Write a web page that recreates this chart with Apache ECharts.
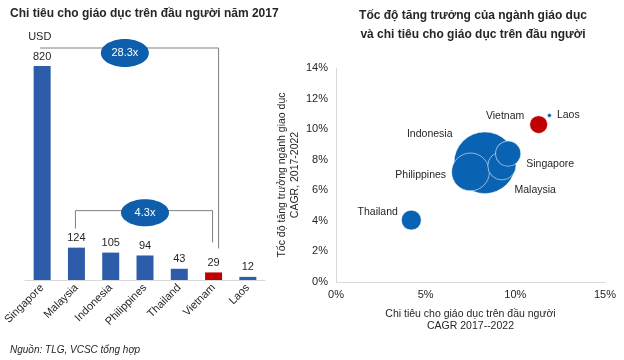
<!DOCTYPE html>
<html>
<head>
<meta charset="utf-8">
<script src="https://cdn.jsdelivr.net/npm/echarts@6/dist/echarts.min.js"></script>
<style>
html,body{margin:0;padding:0;background:#fff;}
#c{width:624px;height:360px;}
</style>
</head>
<body>
<div id="c"></div>
<script>
// Left chart: spending per capita 2017 (USD)
var barCategories = ['Singapore', 'Malaysia', 'Indonesia', 'Philippines', 'Thailand', 'Vietnam', 'Laos'];
var barValues = [820, 124, 105, 94, 43, 29, 12];
var ratioTop = '28.3x';
var ratioBottom = '4.3x';

// Right chart: bubbles
var bubbleNames = ['Indonesia', 'Philippines', 'Malaysia', 'Singapore', 'Thailand', 'Vietnam', 'Laos'];
var spendCagr = [8.3, 7.5, 9.25, 9.6, 4.2, 11.3, 11.9];     // x, %
var sectorCagr = [7.8, 7.2, 7.6, 8.4, 4.05, 10.3, 10.9];    // y, %
var marketSize = [96, 36, 20, 16, 10, 8, 0.4];              // bubble size
var xTicks = [0, 5, 10, 15];
var yTicks = [0, 2, 4, 6, 8, 10, 12, 14];

var FONT = '"Liberation Sans", Arial, sans-serif';
var TXT = '#262626';
var BAR_BLUE = '#2D5DAA';
var RED = '#C00000';
var BUB_BLUE = '#0A62B2';

var labelPlace = {
  'Indonesia':   {position: 'left',  offset: [4, -29]},
  'Philippines': {position: 'left',  offset: [0, 3]},
  'Malaysia':    {position: 'right', offset: [-7, 24]},
  'Singapore':   {position: 'right', offset: [0, 11]},
  'Thailand':    {position: 'left',  offset: [2, -8]},
  'Vietnam':     {position: 'left',  offset: [0, -8]},
  'Laos':        {position: 'right', offset: [0, 0]}
};

var bubbleData = bubbleNames.map(function (n, i) {
  return {
    name: n,
    value: [spendCagr[i], sectorCagr[i], marketSize[i]],
    itemStyle: {color: n === 'Vietnam' ? RED : BUB_BLUE},
    label: labelPlace[n]
  };
});

var barData = barCategories.map(function (c, i) {
  return {value: barValues[i], itemStyle: {color: c === 'Vietnam' ? RED : BAR_BLUE}};
});

var chart = echarts.init(document.getElementById('c'), null, {renderer: 'canvas'});
var option = {
  animation: false,
  backgroundColor: '#fff',
  textStyle: {fontFamily: FONT},
  title: [
    {text: 'Chi tiêu cho giáo dục trên đầu người năm 2017', left: 5, top: 3,
     textStyle: {fontFamily: FONT, fontSize: 12, fontWeight: 'bold', color: TXT}},
    {text: 'Tốc độ tăng trưởng của ngành giáo dục\nvà chi tiêu cho giáo dục trên đầu người', left: 468, top: 1, textAlign: 'center',
     textStyle: {fontFamily: FONT, fontSize: 12, fontWeight: 'bold', color: TXT, lineHeight: 19}},
    {text: 'Nguồn: TLG, VCSC tổng hợp', left: 5, top: 340,
     textStyle: {fontFamily: FONT, fontSize: 10, fontStyle: 'italic', fontWeight: 'normal', color: TXT}}
  ],
  grid: [
    {left: 25, width: 240, top: 66, bottom: 80},
    {left: 336, width: 269, top: 68, bottom: 78}
  ],
  xAxis: [
    {type: 'category', gridIndex: 0, data: barCategories,
     axisLine: {lineStyle: {color: '#d9d9d9'}}, axisTick: {show: false},
     axisLabel: {rotate: 45, color: TXT, fontSize: 11, fontFamily: FONT, margin: 6, interval: 0}},
    {type: 'value', gridIndex: 1, min: 0, max: 15, interval: 5,
     axisLine: {show: true, lineStyle: {color: '#d9d9d9'}}, axisTick: {show: false}, splitLine: {show: false},
     axisLabel: {formatter: '{value}%', color: TXT, fontSize: 11, fontFamily: FONT, margin: 7},
     name: 'Chi tiêu cho giáo dục trên đầu người\nCAGR 2017--2022', nameLocation: 'middle', nameGap: 26,
     nameTextStyle: {color: TXT, fontSize: 10.5, fontFamily: FONT, lineHeight: 12}}
  ],
  yAxis: [
    {type: 'value', gridIndex: 0, min: 0, max: 820, show: false},
    {type: 'value', gridIndex: 1, min: 0, max: 14, interval: 2,
     axisLine: {show: true, lineStyle: {color: '#d9d9d9'}}, axisTick: {show: false}, splitLine: {show: false},
     axisLabel: {formatter: '{value}%', color: TXT, fontSize: 11, fontFamily: FONT, margin: 8},
     name: 'Tốc độ tăng trưởng ngành giao dục\nCAGR, 2017-2022', nameLocation: 'middle', nameGap: 30, nameRotate: 90,
     nameTextStyle: {color: TXT, fontSize: 10.5, fontFamily: FONT, lineHeight: 13}}
  ],
  series: [
    {type: 'bar', xAxisIndex: 0, yAxisIndex: 0, data: barData, barWidth: 17,
     label: {show: true, position: 'top', color: TXT, fontSize: 11, fontFamily: FONT, distance: 4}},
    {type: 'scatter', xAxisIndex: 1, yAxisIndex: 1, data: bubbleData,
     symbolSize: function (v) { return 6.3 * Math.sqrt(v[2]); },
     itemStyle: {borderColor: 'rgba(255,255,255,0.55)', borderWidth: 1, opacity: 1},
     label: {show: true, formatter: '{b}', color: TXT, fontSize: 10.5, fontFamily: FONT, distance: 5}}
  ]
};
chart.setOption(option);

// Brackets computed from the axes
function px(cat, val) { return chart.convertToPixel({xAxisIndex: 0, yAxisIndex: 0}, [cat, val]); }
var sg = px('Singapore', barValues[0]);
var my = px('Malaysia', barValues[1]);
var vn = px('Vietnam', barValues[5]);
var topY = sg[1] - 18;
var botY = my[1] - 37;
var lineStyle = {stroke: '#7f7f7f', lineWidth: 1};
var g = [];
g.push({type: 'text', left: sg[0] - 14, top: sg[1] - 35,
  style: {text: 'USD', fill: TXT, font: '11px ' + FONT}});
g.push({type: 'polyline', shape: {points: [[sg[0] - 2, topY], [vn[0] + 5, topY], [vn[0] + 5, vn[1] - 24]]},
  style: Object.assign({fill: null}, lineStyle), z: 10});
g.push({type: 'polyline', shape: {points: [[my[0] - 1, my[1] - 19], [my[0] - 1, botY], [vn[0] - 1, botY], [vn[0] - 1, vn[1] - 30]]},
  style: Object.assign({fill: null}, lineStyle), z: 10});
var midTop = (sg[0] + vn[0]) / 2;
var midBot = (my[0] + vn[0]) / 2;
g.push({type: 'ellipse', shape: {cx: midTop - 3, cy: topY + 5, rx: 24, ry: 14}, style: {fill: '#0F5EAC'}, z: 20});
g.push({type: 'text', x: midTop - 3, y: topY + 5, style: {text: ratioTop, fill: '#fff', font: '11px ' + FONT, align: 'center', verticalAlign: 'middle'}, z: 21});
g.push({type: 'ellipse', shape: {cx: midBot, cy: botY + 2, rx: 24, ry: 13.5}, style: {fill: '#0F5EAC'}, z: 20});
g.push({type: 'text', x: midBot, y: botY + 2, style: {text: ratioBottom, fill: '#fff', font: '11px ' + FONT, align: 'center', verticalAlign: 'middle'}, z: 21});
chart.setOption({graphic: g});
</script>
</body>
</html>
